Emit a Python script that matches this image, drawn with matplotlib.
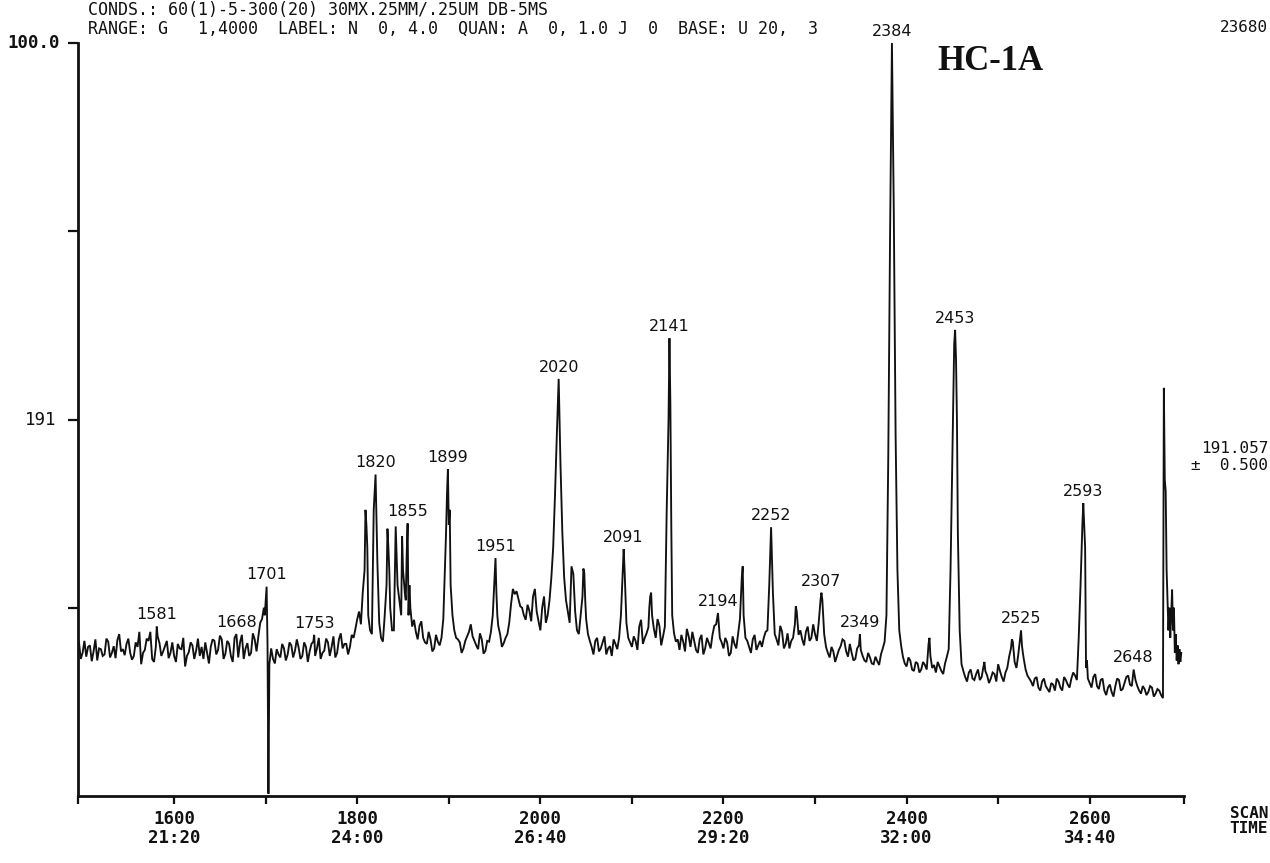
import matplotlib
matplotlib.use("Agg")
import matplotlib.pyplot as plt
from matplotlib.transforms import blended_transform_factory

# ---------------- data ----------------
# m/z 191 mass chromatogram, relative intensity (%) versus scan number
scan_start = 1496
scan_step = 4

# background trace, one row per 100 scans (25 samples, 4 scans apart)
trace_rows = [
    [20.5, 19.0, 18.5, 20.0, 19.2, 18.0, 19.5, 18.8, 20.5, 19.0, 18.3, 21.5, 19.5,
     20.2, 19.0, 18.6, 19.8, 17.5, 19.4, 20.6, 18.2, 19.8, 20.3, 19.2, 20.6],
    [19.0, 18.6, 20.2, 19.5, 17.2, 19.1, 20.0, 19.3, 18.6, 18.2, 19.0, 19.8, 20.6,
     19.4, 20.8, 18.9, 20.2, 17.8, 19.5, 20.4, 18.2, 20.3, 19.0, 20.8, 21.2],
    [23.5, 26.0, 18.0, 18.2, 19.5, 18.4, 19.6, 18.8, 20.0, 19.3, 19.7, 18.6, 19.8,
     19.2, 20.5, 19.6, 18.2, 19.3, 20.4, 19.8, 18.4, 20.8, 19.6, 20.2, 19.8],
    [21.0, 23.5, 22.8, 30.0, 24.0, 21.5, 30.0, 23.0, 20.5, 28.0, 25.0, 22.0, 28.0,
     24.0, 27.0, 24.0, 22.5, 21.8, 22.6, 21.0, 20.2, 20.8, 19.6, 20.5, 21.0],
    [31.0, 36.0, 24.0, 21.0, 20.4, 19.6, 21.2, 22.8, 20.6, 19.5, 20.8, 19.3, 20.5,
     24.0, 27.0, 21.5, 20.3, 21.5, 25.5, 26.8, 26.2, 25.0, 23.4, 24.6, 26.5],
    [24.5, 22.0, 26.5, 24.0, 29.0, 40.0, 55.4, 35.0, 26.0, 23.0, 29.5, 22.0, 24.0,
     29.6, 21.5, 19.8, 20.6, 19.2, 20.4, 18.8, 19.9, 20.8, 19.5, 24.0, 30.0],
    [21.0, 19.8, 20.6, 22.5, 20.2, 21.6, 26.5, 22.2, 23.5, 20.0, 22.5, 50.0, 24.0,
     20.5, 19.4, 20.5, 22.2, 19.8, 20.6, 19.0, 21.4, 19.6, 20.3, 21.4, 22.8],
    [21.0, 19.6, 20.4, 19.0, 20.2, 21.6, 29.0, 21.0, 19.8, 20.8, 19.4, 20.6, 21.0,
     22.0, 33.0, 21.5, 20.0, 21.8, 20.2, 19.6, 21.0, 24.5, 22.0, 20.0, 22.5],
    [21.0, 21.5, 23.0, 26.0, 19.8, 18.4, 19.2, 18.6, 19.9, 20.6, 18.5, 19.0, 18.2,
     20.0, 18.6, 17.8, 18.4, 17.5, 17.9, 18.8, 20.5, 45.0, 100.0, 48.0, 22.0],
    [18.5, 17.2, 18.0, 16.6, 17.6, 16.8, 17.4, 20.2, 17.0, 16.4, 17.2, 16.2, 18.5,
     30.0, 60.0, 35.0, 17.5, 15.8, 16.4, 15.6, 16.2, 15.4, 17.2, 16.0, 15.6],
    [16.2, 17.5, 15.8, 16.4, 18.5, 20.5, 17.0, 21.0, 18.2, 16.0, 15.2, 15.6, 14.4,
     15.2, 14.6, 13.8, 14.8, 15.6, 14.4, 15.8, 14.8, 15.6, 16.0, 21.0, 36.0],
    [17.0, 15.0, 15.8, 14.6, 15.4, 14.0, 14.4, 13.8, 14.6, 15.4, 14.2, 15.8, 14.8,
     16.8, 14.6, 13.6, 14.2, 13.8, 14.4, 13.6, 14.0, 13.8, 13.2, 21.0, 25.0],
]

# in-between samples, 2 scans after each sample above
trace_rows_mid = [
    [18.2, 20.6, 19.8, 17.9, 20.8, 19.6, 18.6, 20.9, 18.4, 19.9, 20.7, 19.2, 18.7,
     20.9, 18.1, 20.4, 21.8, 19.0, 20.9, 21.8, 17.8, 21.2, 18.6, 19.9, 18.3],
    [20.4, 17.8, 19.6, 21.0, 18.6, 20.4, 18.2, 20.9, 19.8, 20.4, 17.6, 20.8, 18.8,
     21.3, 18.2, 20.6, 18.6, 21.0, 18.4, 21.4, 19.6, 18.6, 21.6, 19.2, 23.0],
    [25.0, 20.0, 19.6, 17.6, 18.8, 20.2, 18.0, 20.4, 18.4, 20.8, 18.2, 20.4, 17.8,
     20.2, 18.6, 21.0, 19.0, 20.9, 18.6, 21.2, 19.0, 21.6, 20.2, 18.8, 21.4],
    [22.2, 24.5, 27.0, 36.0, 22.0, 38.0, 31.0, 21.0, 24.0, 33.0, 22.0, 35.8, 26.0,
     30.0, 32.0, 25.0, 23.4, 20.8, 23.2, 20.4, 21.8, 19.2, 21.4, 20.0, 23.5],
    [40.0, 28.0, 22.0, 20.8, 19.0, 20.6, 21.8, 21.2, 20.0, 21.6, 18.9, 20.6, 21.8,
     29.0, 22.6, 19.8, 21.0, 23.0, 27.5, 27.2, 25.2, 24.0, 25.4, 23.2, 27.5],
    [23.2, 25.0, 23.0, 26.0, 33.0, 48.0, 44.0, 29.0, 24.5, 30.5, 24.5, 21.5, 26.5,
     23.5, 20.6, 18.8, 21.0, 19.6, 21.2, 19.6, 18.6, 20.2, 21.0, 30.0, 23.0],
    [20.4, 21.2, 19.4, 23.4, 21.0, 22.4, 24.0, 21.0, 22.6, 21.2, 38.0, 52.0, 21.6,
     20.8, 21.4, 19.2, 21.2, 21.8, 19.4, 20.8, 18.8, 21.0, 19.6, 22.6, 24.3],
    [20.4, 21.0, 18.6, 21.2, 19.6, 23.5, 24.0, 20.6, 19.0, 21.4, 20.0, 19.8, 21.8,
     28.0, 27.0, 20.8, 22.6, 19.6, 21.6, 20.6, 22.8, 21.4, 20.8, 21.8, 20.6],
    [22.8, 20.6, 26.0, 21.5, 19.0, 19.8, 17.8, 19.4, 20.8, 19.2, 20.2, 18.0, 19.6,
     19.4, 18.0, 19.0, 17.6, 18.5, 17.4, 19.6, 24.0, 75.0, 78.0, 30.0, 20.0],
    [17.6, 18.4, 16.8, 17.8, 16.4, 17.8, 16.8, 18.6, 17.4, 17.8, 16.6, 17.6, 19.5,
     45.0, 58.0, 22.0, 16.6, 15.2, 16.8, 15.4, 16.8, 15.8, 16.6, 15.0, 16.4],
    [15.2, 16.6, 15.2, 17.0, 19.6, 17.8, 18.8, 20.0, 16.8, 15.6, 14.6, 15.8, 14.0,
     15.6, 14.2, 15.0, 14.0, 15.2, 14.0, 15.4, 14.4, 16.4, 15.4, 28.0, 36.0],
    [15.6, 14.4, 16.2, 14.2, 15.6, 13.4, 14.8, 13.2, 15.6, 14.0, 15.0, 16.0, 14.6,
     15.4, 14.0, 14.6, 13.4, 14.6, 13.2, 14.2, 13.4, 42.0, 21.0, 25.0, 21.5],
]

# peak flanks, shoulders and unlabelled minor peaks
detail_scans = [
    1699, 1702, 1703, 1704,
    1806, 1809, 1811, 1814, 1818, 1822, 1826, 1830, 1833, 1835, 1838, 1842,
    1846, 1849, 1853, 1857,
    1897, 1901, 1902, 1950, 1953, 1970, 1974, 1994,
    2018, 2022, 2034, 2047, 2049, 2090, 2094,
    2119, 2121, 2138, 2142, 2143, 2196,
    2221, 2250, 2254, 2279,
    2306, 2378, 2380, 2382, 2386, 2388, 2390,
    2425, 2450, 2455, 2458, 2485,
    2515, 2527, 2590, 2595, 2597,
    2680, 2681, 2682, 2683, 2684, 2685, 2686, 2687, 2688, 2689, 2690,
    2691, 2692, 2693, 2694, 2695, 2696, 2697, 2698, 2699, 2700,
]
detail_values = [
    24.0, 20.0, 0.3, 17.5,
    27.0, 38.0, 33.0, 22.0, 38.0, 31.0, 21.0, 24.0, 35.5, 30.0, 22.0, 35.8,
    26.0, 34.5, 26.0, 28.0,
    35.0, 38.0, 28.0, 29.0, 24.0, 27.5, 27.2, 27.5,
    48.0, 44.0, 30.5, 30.2, 26.0, 30.0, 23.0,
    25.0, 27.0, 38.0, 52.0, 36.0, 21.0,
    30.5, 28.0, 27.0, 25.2,
    26.0, 24.0, 45.0, 75.0, 78.0, 48.0, 30.0,
    21.0, 45.0, 50.0, 22.0, 17.8,
    20.8, 19.0, 28.0, 33.0, 18.0,
    13.0, 54.2, 42.0, 40.5, 30.0, 26.0, 22.0, 25.0, 21.0, 24.0, 27.4,
    22.0, 25.0, 19.0, 21.5, 18.0, 20.0, 17.5, 19.5, 17.8, 19.0,
]

# labelled peaks (scan number printed above each apex)
peak_scans = [1581, 1668, 1701, 1753, 1820, 1855, 1899, 1951, 2020, 2091,
              2141, 2194, 2252, 2307, 2349, 2384, 2453, 2525, 2593, 2648]
peak_heights = [22.5, 21.5, 27.8, 21.4, 42.7, 36.2, 43.4, 31.6, 55.4, 32.8,
                60.8, 24.3, 35.7, 27.0, 21.5, 100.0, 61.9, 22.0, 38.9, 16.8]

scan_min, scan_max = 1495, 2703
x_label_scans = [1600, 1800, 2000, 2200, 2400, 2600]
x_label_times = ["21:20", "24:00", "26:40", "29:20", "32:00", "34:40"]
x_minor_scans = [1700, 1900, 2100, 2300, 2500]

header_lines = [
    "CONDS.: 60(1)-5-300(20) 30MX.25MM/.25UM DB-5MS",
    "RANGE: G   1,4000  LABEL: N  0, 4.0  QUAN: A  0, 1.0 J  0  BASE: U 20,  3",
]
sample_name = "HC-1A"
full_scale = "23680"
mass_label = "191.057\n\u00b1  0.500"

# ---------------- assemble trace ----------------
points = {}
for r, row in enumerate(trace_rows):
    for c, v in enumerate(row):
        points[scan_start + (r * 25 + c) * scan_step] = v
for r, row in enumerate(trace_rows_mid):
    for c, v in enumerate(row):
        points[scan_start + 2 + (r * 25 + c) * scan_step] = v
for s, v in zip(detail_scans, detail_values):
    points[s] = v
for s, v in zip(peak_scans, peak_heights):
    points[s] = v
scans = sorted(s for s in points if s <= scan_max)
values = [points[s] for s in scans]

# ---------------- figure ----------------
fig = plt.figure(figsize=(12.7, 8.63), dpi=100)
fig.patch.set_facecolor("white")
ax = fig.add_axes([78 / 1270, 1 - 796 / 863, (1184 - 78) / 1270, (796 - 43) / 863])

ax.plot(scans, values, color="#111111", lw=1.35, solid_joinstyle="miter", clip_on=False)

ax.set_xlim(scan_min, scan_max)
ax.set_ylim(0, 100)
for side in ("top", "right"):
    ax.spines[side].set_visible(False)
for side in ("left", "bottom"):
    ax.spines[side].set_linewidth(2.0)
    ax.spines[side].set_color("#111111")

mono = "DejaVu Sans Mono"
ax.set_xticks([scan_min] + x_label_scans + x_minor_scans + [scan_max])
ax.set_xticklabels([""] + [f"{s}\n{t}" for s, t in zip(x_label_scans, x_label_times)]
                   + [""] * (len(x_minor_scans) + 1),
                   fontfamily=mono, fontweight="bold", fontsize=12.5, linespacing=1.05)
ax.tick_params(axis="x", direction="out", length=6, width=1.6, pad=4, colors="#111111")

ax.set_yticks([25, 50, 75, 100])
ax.set_yticklabels([])
ax.tick_params(axis="y", direction="out", length=7, width=1.6, colors="#111111")

ytrans = blended_transform_factory(fig.transFigure, ax.transData)
fig.text(60 / 1270, 100, "100.0", transform=ytrans, ha="right", va="center",
         fontfamily=mono, fontweight="bold", fontsize=12.5, color="#111111")
fig.text(56 / 1270, 50, "191", transform=ytrans, ha="right", va="center",
         fontfamily=mono, fontsize=12.5, color="#111111")

# peak labels
for s, h in zip(peak_scans, peak_heights):
    ax.annotate(str(s), (s, h), xytext=(0, 3), textcoords="offset points",
                ha="center", va="bottom", fontsize=11.5, fontfamily="DejaVu Sans",
                color="#111111", annotation_clip=False)

# instrument header, two lines
fig.text(88 / 1270, 1 - 1 / 863, "\n".join(header_lines), ha="left", va="top",
         fontfamily=mono, fontsize=12, color="#111111", linespacing=1.05)

fig.text(990 / 1270, 1 - 62 / 863, sample_name, ha="center", va="center",
         fontfamily="Liberation Serif", fontweight="bold", fontsize=25, color="#111111")
fig.text(1268 / 1270, 1 - 27 / 863, full_scale, ha="right", va="center",
         fontfamily=mono, fontsize=11.5, color="#111111")
fig.text(1268 / 1270, 1 - 457 / 863, mass_label, ha="right", va="center",
         fontfamily=mono, fontsize=11.5, color="#111111", linespacing=1.1)
fig.text(1249 / 1270, 1 - 821 / 863, "SCAN\nTIME", ha="center", va="center",
         fontfamily=mono, fontweight="bold", fontsize=11.5, color="#111111",
         linespacing=1.05)

fig.savefig("out.png", dpi=100, facecolor="white")
